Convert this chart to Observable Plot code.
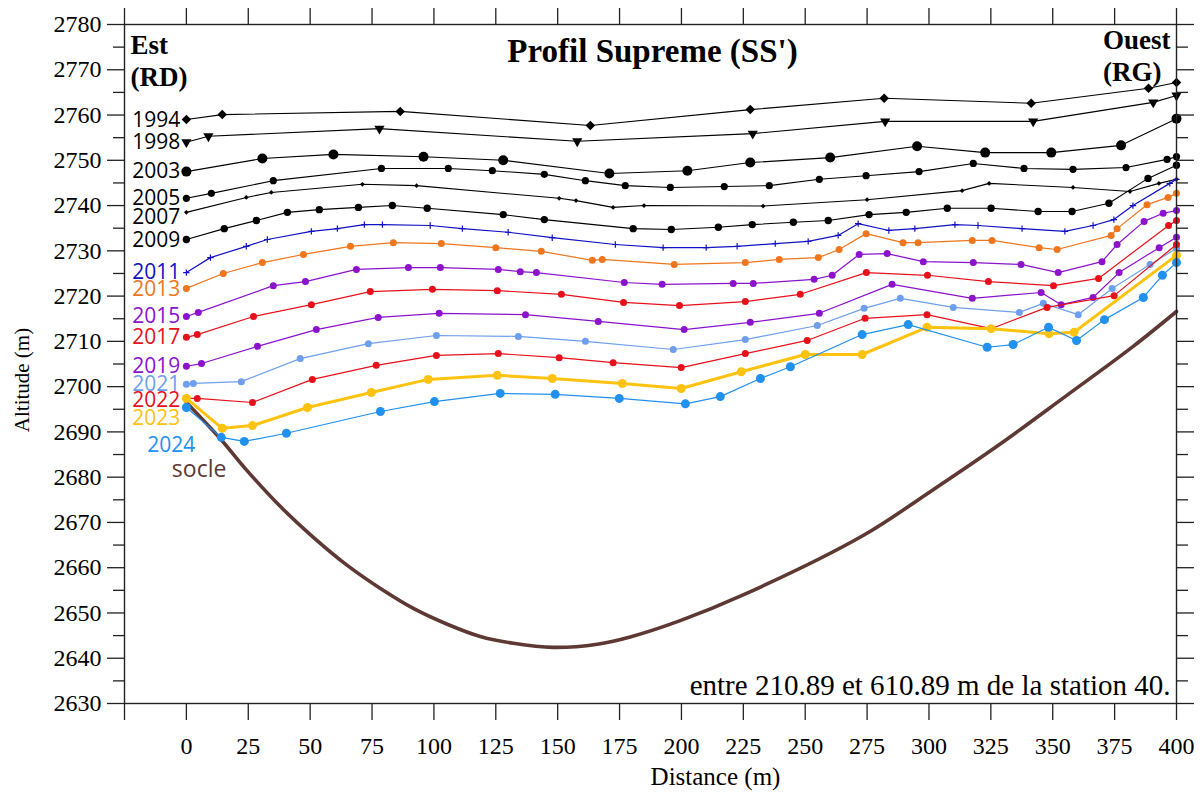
<!DOCTYPE html>
<html>
<head>
<meta charset="utf-8">
<script src="https://cdn.jsdelivr.net/npm/d3@7"></script>
<script src="https://cdn.jsdelivr.net/npm/@observablehq/plot@0.6"></script>
<style>
  html, body { margin: 0; padding: 0; background: #fff; }
  #chart { width: 1202px; height: 794px; }
</style>
</head>
<body>
<div id="chart"></div>
<script>
// ---- data (distance m, altitude m) ----
const x1994 = [0, 14.5, 86.4, 163.2, 227.8, 281.9, 341.3, 388.7, 400];
const y1994 = [2759.0, 2760.1, 2760.8, 2757.7, 2761.2, 2763.7, 2762.6, 2765.9, 2767.2];

const x1998 = [0, 8.9, 78.0, 157.9, 228.8, 282.3, 342.1, 390.6, 400];
const y1998 = [2754.0, 2755.3, 2757.0, 2754.2, 2755.9, 2758.6, 2758.6, 2762.8, 2764.3];

const x2003 = [0, 30.7, 59.4, 95.8, 128.0, 170.9, 202.4, 227.8, 260.1, 295.2, 322.7, 349.4, 377.6, 400];
const y2003 = [2747.5, 2750.4, 2751.3, 2750.8, 2750.0, 2747.1, 2747.7, 2749.5, 2750.6, 2753.1, 2751.7, 2751.7, 2753.3, 2759.2];

const x2005 = [0, 10.1, 35.1, 78.8, 105.8, 123.6, 144.6, 161.2, 177.3, 195.5, 217.3, 235.5, 255.7, 274.6, 296.0, 317.9, 338.4, 358.2, 379.6, 396.2, 400];
const y2005 = [2741.6, 2742.7, 2745.5, 2748.2, 2748.2, 2747.7, 2746.9, 2745.5, 2744.4, 2744.0, 2744.2, 2744.4, 2745.8, 2746.6, 2747.5, 2749.3, 2748.2, 2748.0, 2748.4, 2750.2, 2750.8];

const x2007 = [0, 24.2, 34.3, 71.1, 93.0, 150.6, 157.4, 172.4, 184.9, 233.0, 275.0, 313.4, 324.3, 358.2, 381.2, 392.9, 400];
const y2007 = [2738.5, 2741.8, 2742.9, 2744.7, 2744.4, 2741.6, 2741.1, 2739.6, 2740.0, 2739.9, 2741.3, 2743.3, 2744.9, 2744.0, 2743.1, 2744.9, 2745.8];

const x2009 = [0, 15.3, 28.3, 40.8, 53.7, 69.5, 83.2, 97.3, 128.0, 144.6, 180.5, 195.9, 214.9, 228.6, 245.2, 259.3, 275.8, 290.8, 307.4, 325.1, 344.1, 357.8, 372.7, 388.5, 400];
const y2009 = [2732.5, 2734.9, 2736.7, 2738.5, 2739.1, 2739.6, 2740.0, 2739.4, 2738.0, 2736.9, 2734.9, 2734.7, 2735.2, 2735.8, 2736.3, 2736.7, 2738.0, 2738.5, 2739.4, 2739.4, 2738.7, 2738.7, 2740.5, 2746.0, 2748.9];

const x2011 = [0, 9.7, 24.2, 32.7, 50.5, 61.0, 71.9, 79.2, 98.5, 111.5, 130.0, 147.8, 173.3, 192.6, 210.0, 222.5, 237.9, 251.2, 263.3, 271.4, 283.8, 294.3, 310.5, 319.8, 337.6, 354.9, 366.3, 374.7, 382.4, 397.3, 400];
const y2011 = [2725.2, 2728.5, 2731.0, 2732.5, 2734.3, 2734.9, 2735.8, 2735.8, 2735.6, 2734.9, 2734.1, 2732.9, 2731.4, 2730.7, 2730.7, 2731.0, 2731.6, 2732.1, 2733.4, 2736.0, 2734.5, 2734.9, 2735.8, 2735.6, 2734.9, 2734.3, 2735.6, 2736.9, 2740.0, 2744.9, 2745.8];

const x2013 = [0, 14.9, 30.7, 47.3, 66.3, 83.6, 103.0, 125.0, 143.4, 164.0, 168.0, 197.1, 225.8, 239.5, 255.3, 263.7, 274.6, 289.5, 295.6, 317.5, 325.5, 344.5, 351.8, 373.6, 376.0, 388.1, 396.6, 400];
const y2013 = [2721.7, 2725.0, 2727.4, 2729.2, 2731.0, 2731.8, 2731.6, 2730.7, 2729.9, 2727.9, 2728.1, 2727.0, 2727.4, 2728.1, 2728.5, 2730.3, 2733.8, 2731.8, 2731.8, 2732.3, 2732.3, 2730.7, 2730.3, 2733.4, 2734.9, 2740.2, 2741.8, 2742.7];

const x2015 = [0, 4.8, 35.1, 48.1, 68.7, 89.7, 102.6, 126.0, 134.9, 141.4, 176.9, 192.2, 220.9, 229.0, 253.6, 260.9, 271.8, 283.1, 297.7, 317.9, 337.2, 352.2, 369.9, 376.0, 386.9, 394.6, 400];
const y2015 = [2715.5, 2716.4, 2722.3, 2723.2, 2725.9, 2726.3, 2726.3, 2725.9, 2725.4, 2725.2, 2723.0, 2722.6, 2722.8, 2722.8, 2723.7, 2724.6, 2729.2, 2729.4, 2727.6, 2727.4, 2727.0, 2725.2, 2727.6, 2731.4, 2736.5, 2738.3, 2738.9];

const x2017 = [0, 4.4, 27.1, 50.5, 74.3, 99.4, 125.6, 151.5, 176.6, 199.2, 225.8, 248.0, 274.7, 299.4, 324.0, 350.3, 368.5, 396.8, 400];
const y2017 = [2710.9, 2711.5, 2715.5, 2718.1, 2721.0, 2721.5, 2721.2, 2720.4, 2718.6, 2717.9, 2718.8, 2720.4, 2725.2, 2724.6, 2723.2, 2722.3, 2723.9, 2735.6, 2736.7];

const x2019 = [0, 6.1, 28.7, 52.5, 77.5, 102.1, 137.0, 166.4, 201.1, 227.8, 255.7, 285.1, 317.5, 345.3, 353.4, 366.3, 376.8, 393.0, 400];
const y2019 = [2704.5, 2705.1, 2708.9, 2712.6, 2715.3, 2716.2, 2715.9, 2714.4, 2712.6, 2714.2, 2716.2, 2722.6, 2719.5, 2720.8, 2718.1, 2719.7, 2725.2, 2730.7, 2733.0];

const x2021 = [0, 2.8, 22.2, 46.0, 73.5, 101.0, 134.1, 161.2, 196.7, 225.8, 254.9, 273.8, 288.4, 309.8, 336.5, 346.2, 360.3, 374.0, 389.3, 400];
const y2021 = [2700.5, 2700.7, 2701.1, 2706.2, 2709.5, 2711.3, 2711.1, 2710.0, 2708.2, 2710.4, 2713.5, 2717.3, 2719.5, 2717.5, 2716.4, 2718.4, 2715.9, 2721.7, 2727.0, 2730.5];

const x2022 = [0, 4.4, 26.7, 50.9, 76.7, 101.0, 126.0, 150.6, 172.4, 199.9, 225.8, 250.8, 274.2, 299.2, 325.1, 347.7, 374.8, 400];
const y2022 = [2697.4, 2697.4, 2696.5, 2701.6, 2704.7, 2706.9, 2707.3, 2706.4, 2705.3, 2704.2, 2707.3, 2710.2, 2715.1, 2715.9, 2712.8, 2717.5, 2720.1, 2731.4];

const x2023 = [0, 14.5, 26.7, 48.9, 74.7, 97.7, 125.6, 147.8, 176.1, 199.9, 224.2, 250.0, 273.0, 299.2, 325.1, 348.5, 358.6, 400];
const y2023 = [2697.4, 2690.8, 2691.4, 2695.4, 2698.7, 2701.6, 2702.5, 2701.8, 2700.7, 2699.6, 2703.3, 2707.1, 2707.1, 2713.1, 2712.8, 2711.7, 2712.0, 2729.0];

const x2024 = [0, 14.1, 23.4, 40.4, 78.4, 100.2, 126.8, 149.0, 174.9, 201.6, 215.7, 231.9, 244.0, 273.0, 291.6, 323.5, 334.0, 348.3, 359.6, 370.9, 386.6, 394.3, 400];
const y2024 = [2695.4, 2688.8, 2687.9, 2689.7, 2694.5, 2696.7, 2698.5, 2698.3, 2697.4, 2696.2, 2697.8, 2701.8, 2704.4, 2711.5, 2713.7, 2708.7, 2709.3, 2713.1, 2710.2, 2714.8, 2719.7, 2724.6, 2727.4];

const xSocle = [0, 13.7, 24.6, 38.0, 51.3, 65.0, 78.4, 91.7, 105.4, 118.7, 132.1, 148.2, 166.0, 179.3, 199.5, 225.4, 273.4, 300.5, 327.9, 355.0, 382.5, 400];
const ySocle = [2696.5, 2688.5, 2681.4, 2673.5, 2666.7, 2660.5, 2655.4, 2651.0, 2647.5, 2644.8, 2643.3, 2642.4, 2643.1, 2644.7, 2648.3, 2654.1, 2667.1, 2676.8, 2687.0, 2697.8, 2708.9, 2716.6];

const years = ["1994","1998","2003","2005","2007","2009","2011","2013","2015","2017","2019","2021","2022","2023","2024"];
const seriesX = [x1994,x1998,x2003,x2005,x2007,x2009,x2011,x2013,x2015,x2017,x2019,x2021,x2022,x2023,x2024];
const seriesY = [y1994,y1998,y2003,y2005,y2007,y2009,y2011,y2013,y2015,y2017,y2019,y2021,y2022,y2023,y2024];

const yMajor = d3.range(2630, 2781, 10);
const yMinor = d3.range(2635, 2780, 10);
const xTicks = d3.range(-25, 401, 25);

const titleText = "Profil Supreme (SS')";
const captionText = "entre 210.89 et 610.89 m de la station 40.";

// ---- styles ----
const BLACK = "#000000";
const style = {
  "1994": {color: BLACK, symbol: "square", rotate: 45, r: 3.8, sw: 1.1, ldy: 1},
  "1998": {color: BLACK, symbol: "triangle", rotate: 180, r: 3.8, sw: 1.1, ldy: 0},
  "2003": {color: BLACK, symbol: "circle", r: 5, sw: 1.1, ldy: 0},
  "2005": {color: BLACK, symbol: "circle", r: 3.6, sw: 1.1, ldy: 0},
  "2007": {color: BLACK, symbol: "square", rotate: 45, r: 1.9, sw: 1.1, ldy: 5},
  "2009": {color: BLACK, symbol: "circle", r: 3.7, sw: 1.1, ldy: 1},
  "2011": {color: "#1212C4", symbol: "plus", r: 2.2, sw: 1.2, ldy: 0, stroked: true},
  "2013": {color: "#F0761E", symbol: "circle", r: 3.5, sw: 1.2, ldy: 1},
  "2015": {color: "#8C12CC", symbol: "circle", r: 3.5, sw: 1.2, ldy: 0},
  "2017": {color: "#E8101A", symbol: "circle", r: 3.5, sw: 1.2, ldy: 0},
  "2019": {color: "#8C12CC", symbol: "circle", r: 3.5, sw: 1.2, ldy: 0},
  "2021": {color: "#6E9FEE", symbol: "circle", r: 3.5, sw: 1.2, ldy: 0},
  "2022": {color: "#E8101A", symbol: "circle", r: 3.5, sw: 1.2, ldy: 2},
  "2023": {color: "#FFC20E", symbol: "circle", r: 4.5, sw: 3, ldy: 20},
  "2024": {color: "#2191F0", symbol: "circle", r: 4.5, sw: 1.2, ldy: 38, ldx: 15}
};
const SOCLE = "#5E3934";
const LABEL_FONT = "'Open Sans', sans-serif";

const marks = [];
const socleRows = xSocle.map((x, i) => ({x, y: ySocle[i]}));
marks.push(Plot.line(socleRows, {x: "x", y: "y", stroke: SOCLE, strokeWidth: 3.6, curve: "catmull-rom"}));

years.forEach((yr, k) => {
  const s = style[yr];
  const rows = seriesX[k].map((x, i) => ({x, y: seriesY[k][i]}));
  marks.push(Plot.line(rows, {x: "x", y: "y", stroke: s.color, strokeWidth: s.sw}));
  const dotOpts = {x: "x", y: "y", symbol: s.symbol, r: s.r, rotate: s.rotate || 0};
  if (s.stroked) { dotOpts.stroke = s.color; dotOpts.fill = "none"; dotOpts.strokeWidth = 1.2; }
  else { dotOpts.fill = s.color; dotOpts.stroke = "none"; }
  marks.push(Plot.dot(rows, dotOpts));
  marks.push(Plot.text([{x: seriesX[k][0], y: seriesY[k][0]}], {
    x: "x", y: "y", text: () => yr, textAnchor: "end", lineAnchor: "middle",
    dx: -6 + (s.ldx || 0), dy: s.ldy,
    fill: s.color, fontSize: 21, fontFamily: LABEL_FONT
  }));
});
marks.push(Plot.text([socleRows[0]], {
  x: "x", y: "y", text: () => "socle", textAnchor: "end", lineAnchor: "middle", dx: 40, dy: 67,
  fill: SOCLE, fontSize: 23, fontFamily: LABEL_FONT
}));

// axes
const axStroke = "#222";
marks.push(
  Plot.axisY(yMajor, {anchor: "left", tickSize: 17, tickPadding: 6, tickFormat: "d", fontSize: 24, label: null, stroke: axStroke, strokeWidth: 1.3}),
  Plot.axisY(yMinor, {anchor: "left", tickSize: 11, tickFormat: () => "", label: null, stroke: axStroke, strokeWidth: 1.3}),
  Plot.axisY(yMajor, {anchor: "right", tickSize: 17, tickFormat: () => "", label: null, stroke: axStroke, strokeWidth: 1.3}),
  Plot.axisY(yMinor, {anchor: "right", tickSize: 11, tickFormat: () => "", label: null, stroke: axStroke, strokeWidth: 1.3}),
  Plot.axisX(xTicks, {anchor: "top", tickSize: 17, tickFormat: () => "", label: null, stroke: axStroke, strokeWidth: 1.3}),
  Plot.axisX(xTicks, {anchor: "bottom", tickSize: 17, tickPadding: 16, tickFormat: d => d < 0 ? "" : String(d), fontSize: 24, label: null, stroke: axStroke, strokeWidth: 1.3}),
  Plot.frame({stroke: axStroke, strokeWidth: 1.4})
);

// texts
const T = (txt, o) => Plot.text([txt], {text: d => d, lineAnchor: "middle", fill: BLACK, ...o});
marks.push(
  T(titleText, {frameAnchor: "top", textAnchor: "middle", dy: 27, dx: 2, fontSize: 33, fontWeight: "bold"}),
  T("Est", {frameAnchor: "top-left", textAnchor: "start", dx: 6, dy: 21, fontSize: 27, fontWeight: "bold"}),
  T("(RD)", {frameAnchor: "top-left", textAnchor: "start", dx: 6, dy: 53, fontSize: 27, fontWeight: "bold"}),
  T("Ouest", {frameAnchor: "top-right", textAnchor: "end", dx: -6, dy: 16, fontSize: 27, fontWeight: "bold"}),
  T("(RG)", {frameAnchor: "top-right", textAnchor: "end", dx: -15, dy: 48, fontSize: 27, fontWeight: "bold"}),
  T(captionText, {frameAnchor: "bottom-right", textAnchor: "end", dx: -6, dy: -18, fontSize: 29}),
  T("Distance (m)", {frameAnchor: "bottom", textAnchor: "middle", dx: 65, dy: 73, fontSize: 25}),
  T("Altitude (m)", {frameAnchor: "left", textAnchor: "middle", rotate: -90, dx: -102, dy: 16, fontSize: 21})
);

const chart = Plot.plot({
  width: 1202,
  height: 794,
  marginLeft: 124,
  marginRight: 26,
  marginTop: 24,
  marginBottom: 91,
  x: {domain: [-25, 400]},
  y: {domain: [2630, 2780]},
  style: {fontFamily: "'Liberation Serif', 'Times New Roman', serif", background: "#fff", overflow: "visible"},
  marks
});
document.getElementById("chart").appendChild(chart);
</script>
</body>
</html>
